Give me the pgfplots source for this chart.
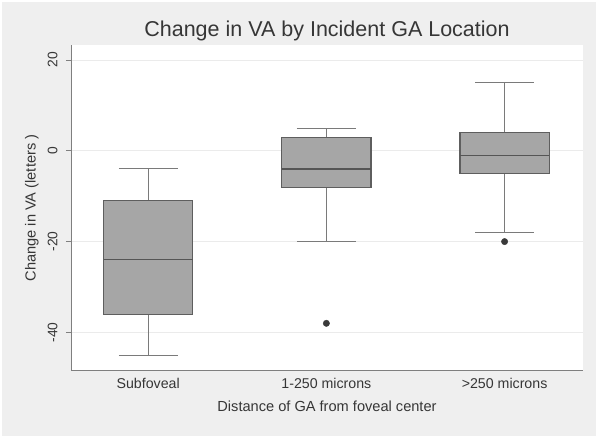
\documentclass[border=0pt]{standalone}
\usepackage{fontspec}
\setmainfont{Liberation Sans}
\usepackage{pgfplots}
\pgfplotsset{compat=1.18}
\usepgfplotslibrary{statistics}
\definecolor{bg}{HTML}{EFEFEF}
\definecolor{axisgray}{HTML}{7F7F7F}
\definecolor{gridgray}{HTML}{EBEBEB}
\definecolor{boxfill}{HTML}{A6A6A6}
\definecolor{boxedge}{HTML}{5E5E5E}
\definecolor{whisk}{HTML}{7A7A7A}
\definecolor{medcol}{HTML}{555555}
\definecolor{dotcol}{HTML}{3A3A3A}
\definecolor{txt}{HTML}{363636}
\begin{document}
\begin{tikzpicture}
\fill[white] (0pt,0pt) rectangle (600pt,438pt);
\fill[bg] (2pt,2pt) rectangle (596pt,436pt);
\begin{axis}[
  at={(71pt,67pt)}, anchor=south west,
  scale only axis, width=512pt, height=326pt,
  xmin=0.567, xmax=3.44, ymin=-48.5, ymax=23.3,
  axis x line*=bottom, axis y line*=left,
  axis line style={draw=axisgray, line width=1pt},
  axis background/.style={fill=white},
  xtick={1,2,3},
  xticklabels={Subfoveal,1-250 microns,>250 microns},
  xtick style={draw=none},
  ytick={-40,-20,0,20},
  ytick style={draw=axisgray, line width=0.8pt},
  tick align=outside, major tick length=5pt,
  ymajorgrids, grid style={draw=gridgray, line width=0.8pt},
  /pgf/number format/assume math mode=true,
  tick label style={text=txt},
  label style={font=\fontsize{14.6}{17}\selectfont, text=txt},
  xticklabel style={font=\fontsize{14.2}{17}\selectfont, anchor=base, inner sep=0pt, yshift=-13pt},
  yticklabel style={font=\fontsize{13.8}{16}\selectfont, xshift=-8.5pt, rotate=90, anchor=base, inner sep=0pt},
  xlabel={Distance of GA from foveal center},
  xlabel style={at={(axis description cs:0.5,-0.1242)}, anchor=base, inner sep=0pt},
  ylabel={Change in VA (letters )},
  ylabel style={at={(axis description cs:-0.0693,0.5)}, anchor=base, inner sep=0pt},
  title={Change in VA by Incident GA Location},
  title style={at={(axis description cs:0.5,1)}, anchor=base, yshift=2pt, inner sep=0pt, font=\fontsize{21.5}{25}\selectfont, text=txt},
  boxplot/draw direction=y,
  boxplot/every box/.style={draw=boxedge, fill=boxfill, line width=1.2pt},
  boxplot/every whisker/.style={draw=whisk, line width=1.1pt},
  boxplot/every median/.style={draw=medcol, line width=1.3pt},
]
\addplot[boxplot prepared={draw position=1, lower whisker=-45, lower quartile=-36, median=-24, upper quartile=-11, upper whisker=-4, box extend=0.5, whisker extend=0.33}, draw=whisk]
  coordinates {};
\addplot[boxplot prepared={draw position=2, lower whisker=-20, lower quartile=-8, median=-4, upper quartile=3, upper whisker=5, box extend=0.5, whisker extend=0.33}, draw=whisk, mark=*, mark size=3.2pt, mark options={fill=dotcol, draw=dotcol}]
  table[row sep=\\, y index=0] {-38\\};
\addplot[boxplot prepared={draw position=3, lower whisker=-18, lower quartile=-5, median=-1, upper quartile=4, upper whisker=15, box extend=0.5, whisker extend=0.33}, draw=whisk, mark=*, mark size=3.2pt, mark options={fill=dotcol, draw=dotcol}]
  table[row sep=\\, y index=0] {-20\\};
\end{axis}
\end{tikzpicture}
\end{document}
